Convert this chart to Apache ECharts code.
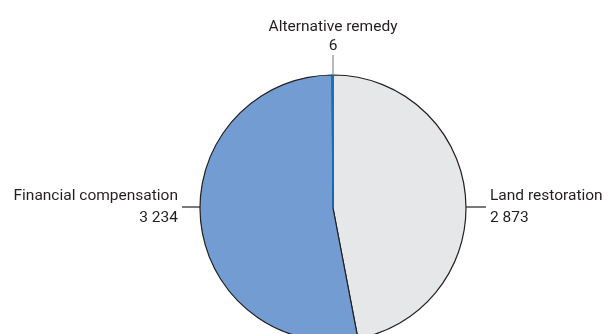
<!DOCTYPE html>
<html><head><meta charset="utf-8">
<script src="https://cdn.jsdelivr.net/npm/echarts@6/dist/echarts.min.js"></script>
<style>html,body{margin:0;padding:0;background:#fff}#c{width:608px;height:334px}</style>
</head><body><div id="c"></div>
<script>
var categories = ['Land restoration', 'Financial compensation', 'Alternative remedy'];
var values = [2873, 3234, 6];
var colors = ['#e6e7e8', '#739dd2', '#1a6dbd'];

var CX = 333, CY = 208, R = 133;
var FONT = 'Roboto, "Liberation Sans", Arial, sans-serif';
var TEXT = '#231f20';

function fmt(v){ return String(v).replace(/\B(?=(\d{3})+(?!\d))/g, ' '); }
function labelText(i){ return categories[i] + '\n' + fmt(values[i]); }

// label placement: where each label sits around the pie
var place = ['right', 'left', 'top'];

var graphics = [];
place.forEach(function(side, i){
  var line, text;
  if (side === 'right') {
    line = { x1: CX + R, y1: CY - 1, x2: CX + R + 20, y2: CY - 1 };
    text = { x: CX + R + 24, y: CY - 0.5, textAlign: 'left', textVerticalAlign: 'middle', lineHeight: 22 };
  } else if (side === 'left') {
    line = { x1: CX - R, y1: CY - 1, x2: CX - R - 18, y2: CY - 1 };
    text = { x: CX - R - 22, y: CY - 0.5, textAlign: 'right', textVerticalAlign: 'middle', lineHeight: 22 };
  } else {
    line = { x1: CX, y1: CY - R, x2: CX, y2: CY - R - 20 };
    text = { x: CX, y: 36.5, textAlign: 'center', textVerticalAlign: 'middle', lineHeight: 19 };
  }
  graphics.push({
    type: 'line', silent: true, z: 10,
    shape: line,
    style: { stroke: side === 'top' ? '#8a8a8a' : TEXT, lineWidth: 1.2 }
  });
  graphics.push({
    type: 'text', silent: true, z: 10,
    x: text.x, y: text.y,
    style: {
      text: labelText(i),
      align: text.textAlign, verticalAlign: text.textVerticalAlign,
      lineHeight: text.lineHeight,
      font: '15.5px ' + FONT,
      fill: TEXT
    }
  });
});

var chart = echarts.init(document.getElementById('c'));
chart.setOption({
  animation: false,
  series: [{
    type: 'pie',
    center: [CX, CY],
    radius: R,
    startAngle: 90,
    clockwise: true,
    minAngle: 0,
    avoidLabelOverlap: false,
    label: { show: false },
    labelLine: { show: false },
    emphasis: { disabled: true },
    data: categories.map(function(n, i){
      return {
        name: n, value: values[i],
        itemStyle: {
          color: colors[i],
          borderColor: i === 2 ? colors[2] : '#231f20',
          borderWidth: i === 2 ? 1.5 : 1.2
        }
      };
    })
  }],
  graphic: graphics
});
</script></body></html>
